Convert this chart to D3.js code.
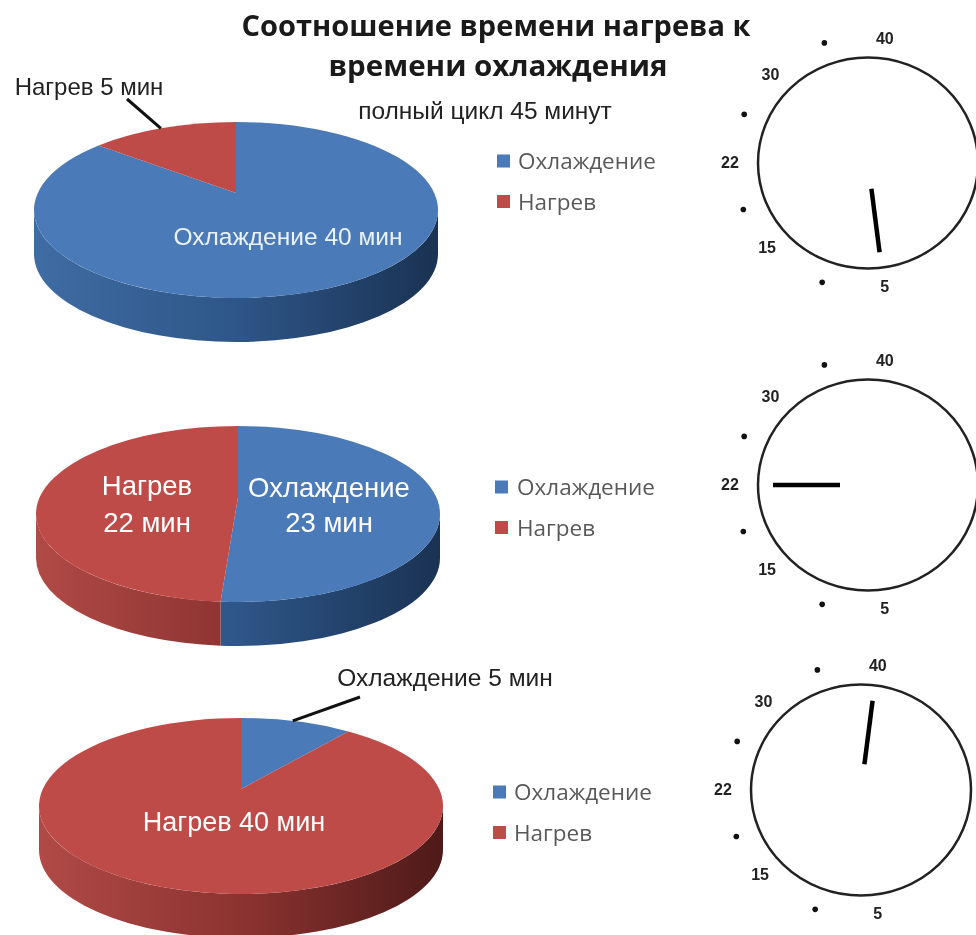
<!DOCTYPE html>
<html>
<head>
<meta charset="utf-8">
<script src="https://cdn.jsdelivr.net/npm/d3@7"></script>
<style>
  html, body { margin: 0; padding: 0; background: #fff; overflow: hidden; }
  svg { display: block; filter: blur(0.5px); }
  text { font-family: "Liberation Sans", Arial, sans-serif; }
</style>
</head>
<body>
<svg id="chart" width="976" height="935"></svg>
<script>
// slice names, always in this drawing order (clockwise from 12 o'clock)
const names = ['Охлаждение', 'Нагрев'];

// minutes per slice for each of the three cycles
const cycle1 = [40, 5];
const cycle2 = [23, 22];
const cycle3 = [5, 40];

// where the dial needle sits for each cycle
const dialValues = [5, 22, 40];

// dial numbers and the dots between them
const dialTicks = [5, 15, 22, 30, 40];
const dialDots = [10, 18.5, 26, 35];

const titleLines = ['Соотношение времени нагрева к', 'времени охлаждения'];
const subtitle = 'полный цикл 45 минут';

const colors = { 'Охлаждение': '#4a7ab8', 'Нагрев': '#bf4b48' };
const wallStops = {
  'Охлаждение': ['#3f6ca3', '#2e5688', '#1a3253'],
  'Нагрев': ['#b04a47', '#8c3330', '#4e1a19']
};

const svg = d3.select('#chart');
const defs = svg.append('defs');

const rx = 202, ry = 88, depth = 44, apexLift = 17;
// warp bends the rim angle a little, the 3D pies are not true ellipses in the picture
const pies = [
  { data: cycle1, cx: 236, cy: 210, warp: -0.05, legendX: 497, legendY: 161, textX: 518 },
  { data: cycle2, cx: 238, cy: 514, warp: -0.12, legendX: 495, legendY: 487, textX: 517 },
  { data: cycle3, cx: 241, cy: 806, warp: 0.14, legendX: 493, legendY: 792, textX: 514 }
];

const pie = d3.pie().sort(null);

function rim(p, a, dy = 0) {
  const t = a - p.warp * Math.sin(2 * a);
  return [p.cx + rx * Math.sin(t), p.cy - ry * Math.cos(t) + dy];
}

function slicePath(p, s) {
  const [x0, y0] = rim(p, s.startAngle);
  const [x1, y1] = rim(p, s.endAngle);
  const large = s.endAngle - s.startAngle > Math.PI ? 1 : 0;
  return `M${p.cx},${p.cy - apexLift}L${x0},${y0}A${rx},${ry} 0 ${large} 1 ${x1},${y1}Z`;
}

// wall only shows on the front half of the rim
function wallPath(p, s) {
  const a0 = Math.max(s.startAngle, Math.PI / 2);
  const a1 = Math.min(s.endAngle, Math.PI * 1.5);
  if (a1 <= a0) return null;
  const [x0, y0] = rim(p, a0);
  const [x1, y1] = rim(p, a1);
  const [x2, y2] = rim(p, a1, depth);
  const [x3, y3] = rim(p, a0, depth);
  return `M${x0},${y0}A${rx},${ry} 0 0 1 ${x1},${y1}L${x2},${y2}A${rx},${ry} 0 0 0 ${x3},${y3}Z`;
}

pies.forEach((p, i) => {
  const g = svg.append('g');
  const arcs = pie(p.data).map((s, j) => ({ ...s, name: names[j] }));

  arcs.forEach(s => {
    const id = `wall-${i}-${names.indexOf(s.name)}`;
    const grad = defs.append('linearGradient')
      .attr('id', id)
      .attr('gradientUnits', 'userSpaceOnUse')
      .attr('x1', p.cx - rx).attr('x2', p.cx + rx)
      .attr('y1', 0).attr('y2', 0);
    wallStops[s.name].forEach((c, k) => {
      grad.append('stop').attr('offset', [0, 0.5, 1][k]).attr('stop-color', c);
    });
    const d = wallPath(p, s);
    if (d) g.append('path').attr('d', d).attr('fill', `url(#${id})`);
  });

  g.selectAll('path.slice')
    .data(arcs)
    .join('path')
    .attr('class', 'slice')
    .attr('d', s => slicePath(p, s))
    .attr('fill', s => colors[s.name]);

  // legend
  names.forEach((n, j) => {
    const y = p.legendY + j * 40.5;
    svg.append('rect')
      .attr('x', p.legendX).attr('y', y - 6.5)
      .attr('width', 13).attr('height', 13)
      .attr('fill', colors[n]);
    svg.append('text')
      .attr('x', p.textX).attr('y', y + 8)
      .attr('font-size', 22.5)
      .attr('fill', '#595959')
      .style('font-family', '"Open Sans", sans-serif')
      .text(n);
  });
});

// leader lines leave from the middle of the small slice
function leader(p, sliceIndex, x2, y2) {
  const s = pie(p.data)[sliceIndex];
  const [x1, y1] = rim(p, (s.startAngle + s.endAngle) / 2);
  svg.append('line')
    .attr('x1', x1).attr('y1', y1)
    .attr('x2', x2).attr('y2', y2)
    .attr('stroke', '#111').attr('stroke-width', 3);
}
leader(pies[0], 1, 127, 99);
leader(pies[2], 0, 360, 697);

function label(txt, x, y, size, fill = '#fff', anchor = 'middle') {
  svg.append('text')
    .attr('x', x).attr('y', y)
    .attr('font-size', size)
    .attr('fill', fill)
    .attr('text-anchor', anchor)
    .text(txt);
}

label(`${names[1]} ${cycle1[1]} мин`, 89, 95, 24, '#222');
label(`${names[0]} ${cycle1[0]} мин`, 288, 245, 24.5, '#eaf2fb');
label(names[1], 147, 495, 27.5);
label(`${cycle2[1]} мин`, 147, 532, 27.5);
label(names[0], 329, 497, 27.5);
label(`${cycle2[0]} мин`, 329, 532, 27.5);
label(`${names[0]} ${cycle3[0]} мин`, 445, 686, 24.5, '#222');
label(`${names[1]} ${cycle3[1]} мин`, 234, 831, 27);

// title
titleLines.forEach((t, i) => {
  svg.append('text')
    .attr('x', [496, 498][i]).attr('y', [36, 76][i])
    .attr('text-anchor', 'middle')
    .attr('font-size', 29)
    .attr('font-weight', 700)
    .attr('fill', '#1a1a1a')
    .style('font-family', '"Open Sans", sans-serif')
    .attr('textLength', [509, 339][i])
    .attr('lengthAdjust', 'spacingAndGlyphs')
    .text(t);
});
label(subtitle, 485, 119, 24.5, '#222');

// dials: number -> angle in degrees clockwise from 12 o'clock
const dialAngle = d3.scaleLinear()
  .domain(dialTicks)
  .range([173, 227, 270, 315, 367]);

const dials = [
  { cx: 868, cy: 163 },
  { cx: 868, cy: 485 },
  { cx: 861, cy: 790 }
];

function polar(d, deg, rX, rY) {
  const a = deg * Math.PI / 180;
  return [d.cx + rX * Math.sin(a), d.cy - rY * Math.cos(a)];
}

dials.forEach((d, i) => {
  const g = svg.append('g');
  g.append('ellipse')
    .attr('cx', d.cx).attr('cy', d.cy)
    .attr('rx', 110).attr('ry', 105.5)
    .attr('fill', 'none')
    .attr('stroke', '#222').attr('stroke-width', 2.5);

  g.selectAll('circle')
    .data(dialDots)
    .join('circle')
    .attr('cx', v => polar(d, dialAngle(v), 134, 127)[0])
    .attr('cy', v => polar(d, dialAngle(v), 134, 127)[1])
    .attr('r', 2.8)
    .attr('fill', '#111');

  g.selectAll('text')
    .data(dialTicks)
    .join('text')
    .attr('x', v => polar(d, dialAngle(v), 138, 125)[0])
    .attr('y', v => polar(d, dialAngle(v), 138, 125)[1] + 5)
    .attr('text-anchor', 'middle')
    .attr('font-size', 16)
    .attr('font-weight', 700)
    .attr('fill', '#222')
    .text(v => v);

  const a = dialAngle(dialValues[i]);
  const [x1, y1] = polar(d, a, 28, 26);
  const [x2, y2] = polar(d, a, 95, 90);
  g.append('line')
    .attr('x1', x1).attr('y1', y1)
    .attr('x2', x2).attr('y2', y2)
    .attr('stroke', '#000').attr('stroke-width', 4.5);
});
</script>
</body>
</html>
